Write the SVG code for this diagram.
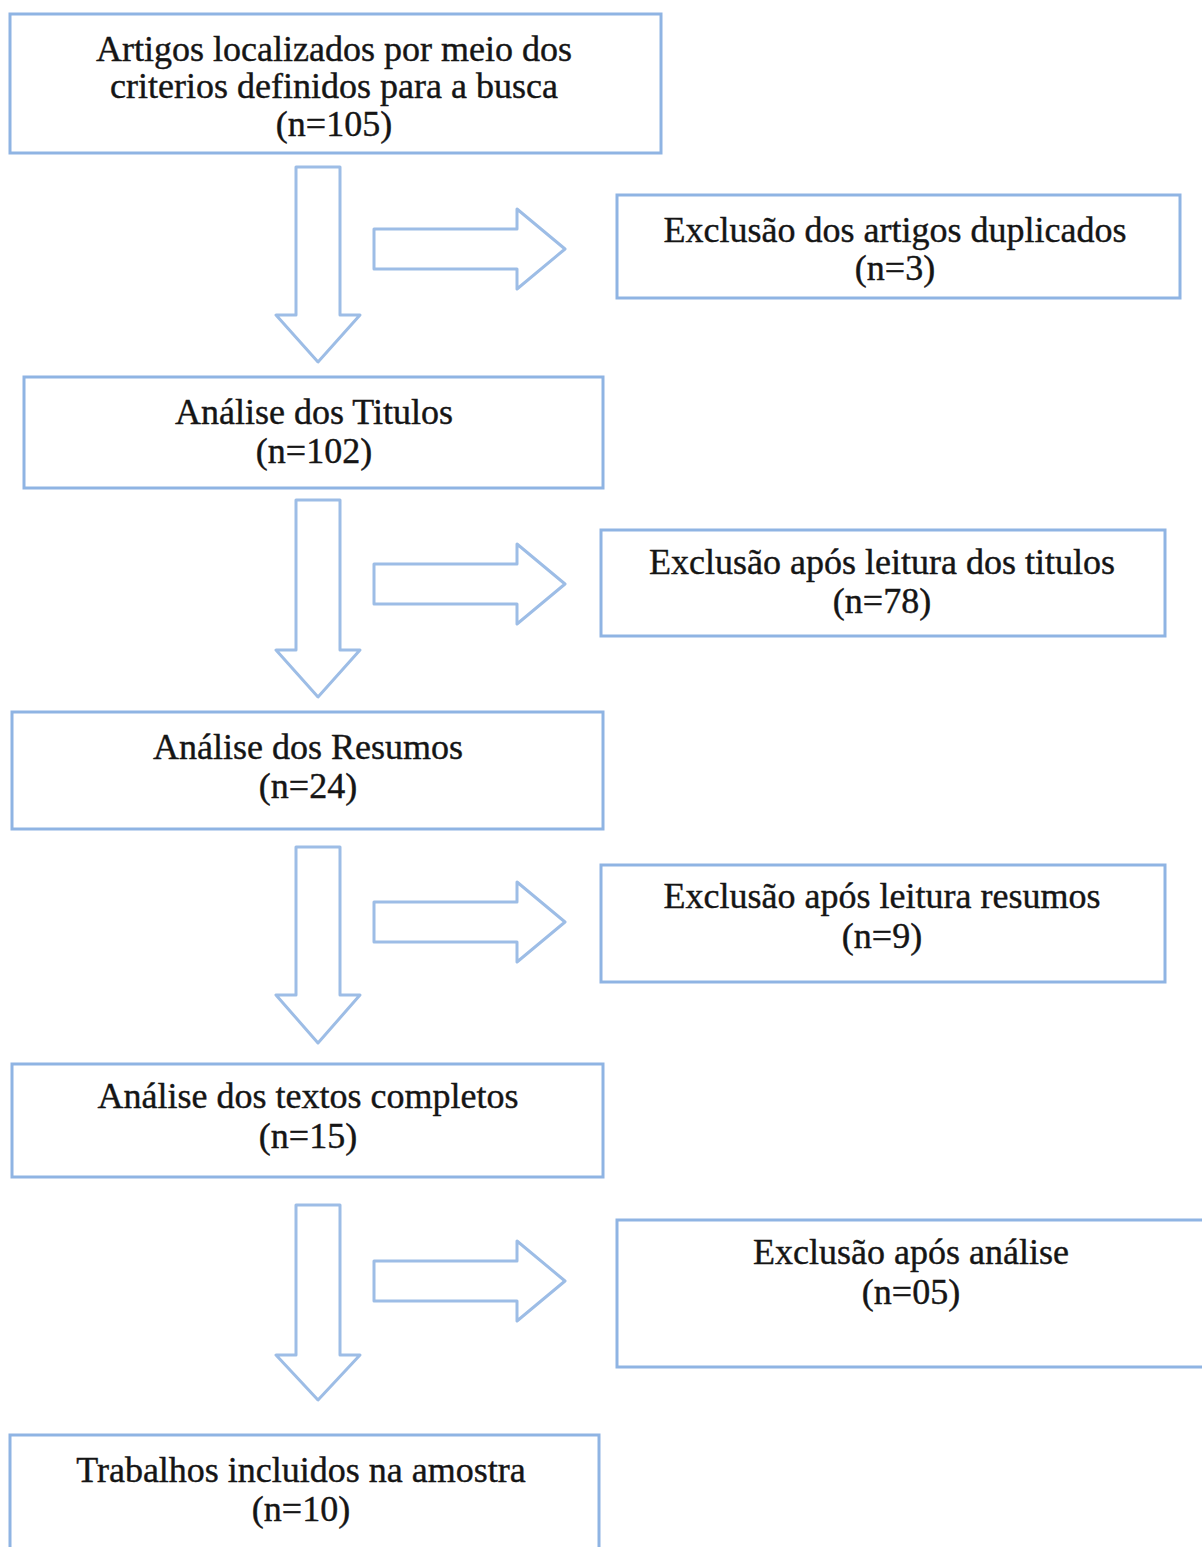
<svg xmlns="http://www.w3.org/2000/svg" width="1202" height="1547" viewBox="0 0 1202 1547">
<style>
.box{fill:#fff;stroke:#8fb4e3;stroke-width:3}
.arr{fill:#fff;stroke:#9dbde6;stroke-width:3;stroke-linejoin:round}
text{font-family:"Liberation Serif","Times New Roman",serif;font-size:36px;fill:#151515;stroke:#151515;stroke-width:0.4;text-anchor:middle}
</style>
<rect width="1202" height="1547" fill="#fff"/>
<g id="connectors">
<polygon class="arr" points="296,167 340,167 340,315 360,315 318,362 276,315 296,315"/>
<polygon class="arr" points="374,229 517,229 517,209 565,249 517,289 517,269 374,269"/>
<polygon class="arr" points="296,500 340,500 340,650 360,650 318,697 276,650 296,650"/>
<polygon class="arr" points="374,564 517,564 517,544 565,584 517,624 517,604 374,604"/>
<polygon class="arr" points="296,847 340,847 340,995 360,995 318,1043 276,995 296,995"/>
<polygon class="arr" points="374,902 517,902 517,882 565,922 517,962 517,942 374,942"/>
<polygon class="arr" points="296,1205 340,1205 340,1355 360,1355 318,1400 276,1355 296,1355"/>
<polygon class="arr" points="374,1261 517,1261 517,1241 565,1281 517,1321 517,1301 374,1301"/>
</g>
<g id="n1"><rect class="box" x="10" y="14" width="651" height="139"/>
<text x="334" y="61">Artigos localizados por meio dos</text>
<text x="334" y="98">criterios definidos para a busca</text>
<text x="334" y="136">(n=105)</text></g>
<g id="n2"><rect class="box" x="617" y="195" width="563" height="103"/>
<text x="895" y="242">Exclusão dos artigos duplicados</text>
<text x="895" y="280">(n=3)</text></g>
<g id="n3"><rect class="box" x="24" y="377" width="579" height="111"/>
<text x="314" y="424">Análise dos Titulos</text>
<text x="314" y="463">(n=102)</text></g>
<g id="n4"><rect class="box" x="601" y="530" width="564" height="106"/>
<text x="882" y="574">Exclusão após leitura dos titulos</text>
<text x="882" y="613">(n=78)</text></g>
<g id="n5"><rect class="box" x="12" y="712" width="591" height="117"/>
<text x="308" y="759">Análise dos Resumos</text>
<text x="308" y="798">(n=24)</text></g>
<g id="n6"><rect class="box" x="601" y="865" width="564" height="117"/>
<text x="882" y="908">Exclusão após leitura resumos</text>
<text x="882" y="948">(n=9)</text></g>
<g id="n7"><rect class="box" x="12" y="1064" width="591" height="113"/>
<text x="308" y="1108">Análise dos textos completos</text>
<text x="308" y="1148">(n=15)</text></g>
<g id="n8"><rect class="box" x="617" y="1220" width="590" height="147"/>
<text x="911" y="1264">Exclusão após análise</text>
<text x="911" y="1304">(n=05)</text></g>
<g id="n9"><rect class="box" x="10" y="1435" width="589" height="130"/>
<text x="301" y="1482">Trabalhos incluidos na amostra</text>
<text x="301" y="1521">(n=10)</text></g>
</svg>
